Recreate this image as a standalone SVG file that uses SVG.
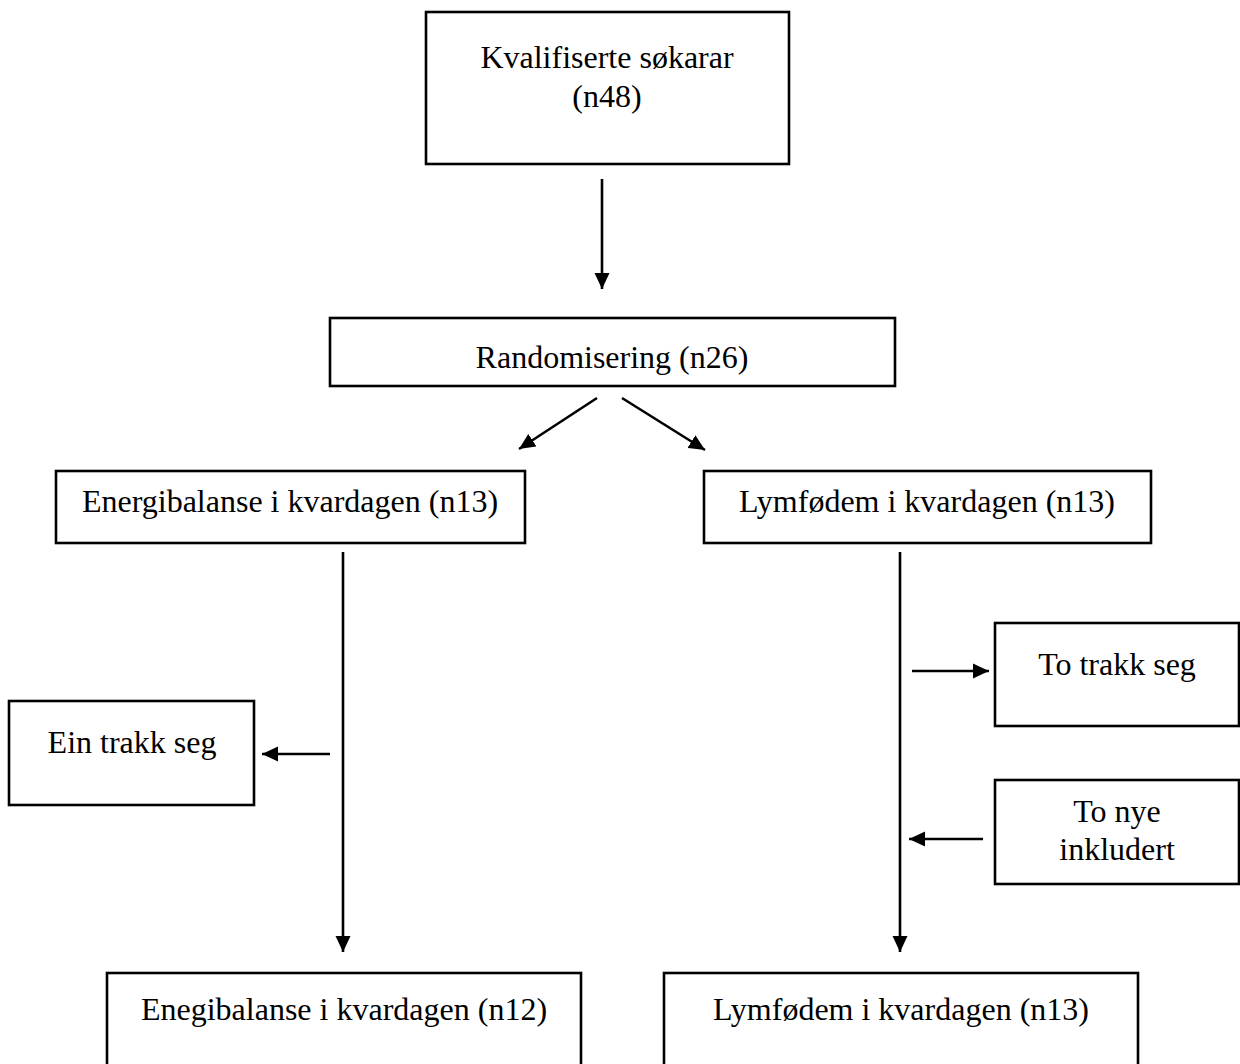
<svg xmlns="http://www.w3.org/2000/svg" width="1240" height="1064" viewBox="0 0 1240 1064">
<style>
  .box { fill: #ffffff; stroke: #000000; stroke-width: 2.6; }
  .lbl { font-family: "Liberation Serif", "Times New Roman", serif; font-size: 32px; fill: #000000; text-anchor: middle; }
  .conn { stroke: #000000; stroke-width: 2.6; fill: none; marker-end: url(#arrow); }
</style>
<defs>
  <marker id="arrow" markerUnits="userSpaceOnUse" markerWidth="17" markerHeight="16" refX="16" refY="8" orient="auto">
    <path d="M0,0.5 L16,8 L0,15.5 Z" fill="#000000"/>
  </marker>
</defs>
<rect width="1240" height="1064" fill="#ffffff"/>

<g id="node-kvalifiserte">
  <rect class="box" x="426" y="12" width="363" height="152"/>
  <text class="lbl" x="607" y="68">Kvalifiserte søkarar</text>
  <text class="lbl" x="607" y="107">(n48)</text>
</g>

<g id="node-randomisering">
  <rect class="box" x="330" y="318" width="565" height="68"/>
  <text class="lbl" x="612" y="368">Randomisering (n26)</text>
</g>

<g id="node-energibalanse">
  <rect class="box" x="56" y="471" width="469" height="72"/>
  <text class="lbl" x="290" y="512">Energibalanse i kvardagen (n13)</text>
</g>

<g id="node-lymfodem">
  <rect class="box" x="704" y="471" width="447" height="72"/>
  <text class="lbl" x="927" y="512">Lymfødem i kvardagen (n13)</text>
</g>

<g id="node-ein-trakk">
  <rect class="box" x="9" y="701" width="245" height="104"/>
  <text class="lbl" x="132" y="753">Ein trakk seg</text>
</g>

<g id="node-to-trakk">
  <rect class="box" x="995" y="623" width="244" height="103"/>
  <text class="lbl" x="1117" y="675">To trakk seg</text>
</g>

<g id="node-to-nye">
  <rect class="box" x="995" y="780" width="244" height="104"/>
  <text class="lbl" x="1117" y="822">To nye</text>
  <text class="lbl" x="1117" y="860">inkludert</text>
</g>

<g id="node-enegibalanse-n12">
  <rect class="box" x="107" y="973" width="474" height="100"/>
  <text class="lbl" x="344" y="1020">Enegibalanse i kvardagen (n12)</text>
</g>

<g id="node-lymfodem-n13">
  <rect class="box" x="664" y="973" width="474" height="100"/>
  <text class="lbl" x="901" y="1020">Lymfødem i kvardagen (n13)</text>
</g>

<g id="connectors">
  <line class="conn" x1="602" y1="179" x2="602" y2="289"/>
  <line class="conn" x1="597" y1="398" x2="519" y2="449"/>
  <line class="conn" x1="622" y1="398" x2="705" y2="450"/>
  <line class="conn" x1="343" y1="552" x2="343" y2="952"/>
  <line class="conn" x1="900" y1="552" x2="900" y2="952"/>
  <line class="conn" x1="330" y1="754" x2="262" y2="754"/>
  <line class="conn" x1="912" y1="671" x2="989" y2="671"/>
  <line class="conn" x1="983" y1="839" x2="909" y2="839"/>
</g>
</svg>
